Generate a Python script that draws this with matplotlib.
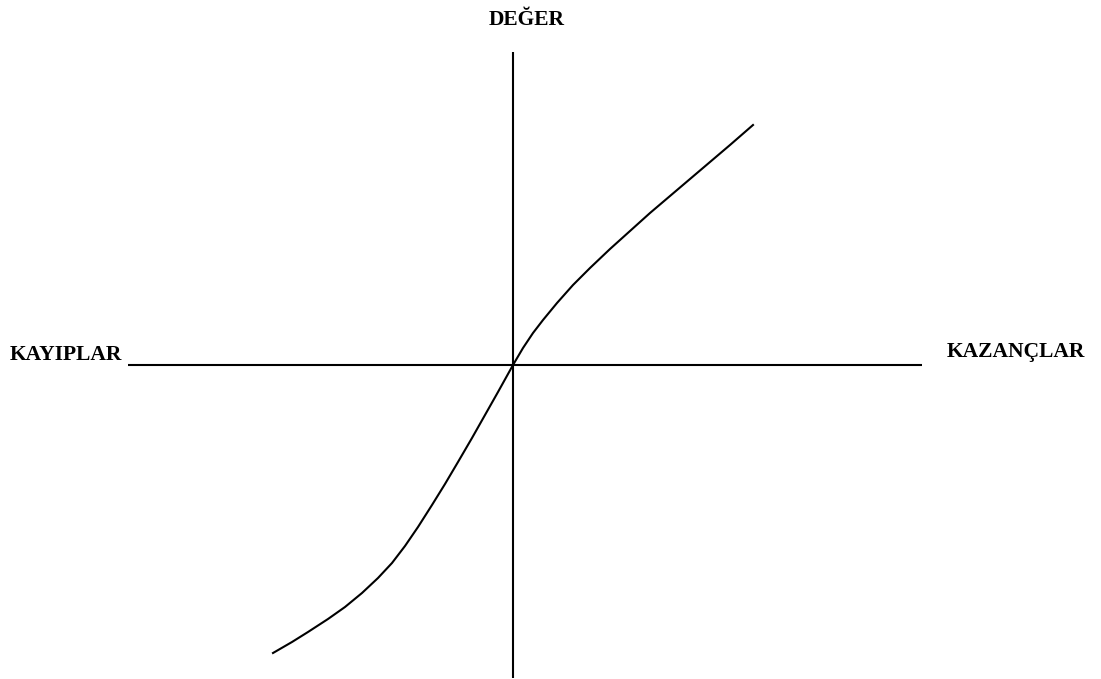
import matplotlib
matplotlib.use('Agg')
import matplotlib.pyplot as plt

# value function (origin = where the axes cross)
losses_x = [-240, -221, -205, -185, -168, -151, -135, -121, -108, -95,
            -81, -68, -55, -41, -28, -15, 0]
losses_y = [-288, -277, -267, -254, -242, -228, -213, -198, -181, -162,
            -140, -119, -97, -73, -50, -27, 0]
gains_x = [0, 10, 20, 30, 44, 60, 77, 97, 117, 137, 157, 177, 197, 217, 240]
gains_y = [0, 17, 32, 45, 62, 80, 97, 116, 134, 152, 169, 186, 203, 220, 240]

# extent of the drawn axis lines
h_axis = [-385, 409]
v_axis = [-313, 313]

labels = {'top': 'DEĞER', 'left': 'KAYIPLAR', 'right': 'KAZANÇLAR'}

plt.rcParams['font.family'] = ['Liberation Serif', 'DejaVu Serif']

fig = plt.figure(figsize=(11.01, 6.79), dpi=100)
ax = fig.add_axes([0, 0, 1, 1])
ax.set_xlim(-513, 588)
ax.set_ylim(-314, 365)
ax.axis('off')

ax.plot(h_axis, [0, 0], color='black', lw=1.5, solid_capstyle='butt')
ax.plot([0, 0], v_axis, color='black', lw=1.5, solid_capstyle='butt')
ax.plot(losses_x + gains_x[1:], losses_y + gains_y[1:], color='black',
        lw=1.5, solid_joinstyle='round')

txt = dict(fontsize=15.5, fontweight='bold', va='baseline')
ax.text(14, 340, labels['top'], ha='center', **txt)
ax.text(-503, 5, labels['left'], ha='left', **txt)
ax.text(434, 8, labels['right'], ha='left', **txt)

fig.savefig('out.png', dpi=100)
